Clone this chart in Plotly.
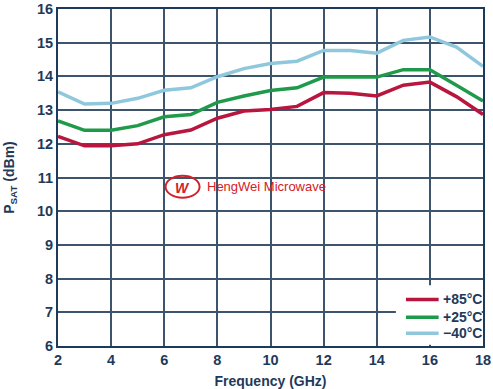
import plotly.graph_objects as go

freq = [2, 3, 4, 5, 6, 7, 8, 9, 10, 11, 12, 13, 14, 15, 16, 17, 18]
p85 = [12.22, 11.94, 11.94, 12.0, 12.27, 12.41, 12.76, 12.97, 13.02, 13.11, 13.52, 13.5, 13.42, 13.74, 13.83, 13.4, 12.87]
p25 = [12.68, 12.4, 12.4, 12.54, 12.8, 12.87, 13.23, 13.42, 13.58, 13.66, 13.98, 13.98, 13.98, 14.2, 14.2, 13.74, 13.27]
m40 = [13.54, 13.18, 13.2, 13.35, 13.59, 13.66, 13.99, 14.23, 14.38, 14.45, 14.77, 14.77, 14.69, 15.07, 15.17, 14.87, 14.3]

names = ["+85°C", "+25°C", "\u221240°C"]
colors = ["#b8163f", "#1f9a4b", "#8fc8dc"]
navy = "#1e3a5a"
gridc = "#3c556d"
red = "#d42027"
font_fam = "Arial, Liberation Sans, sans-serif"

fig = go.Figure()
for y, n, c in zip([p85, p25, m40], names, colors):
    fig.add_trace(go.Scatter(x=freq, y=y, mode="lines", name=n,
                             line=dict(color=c, width=3.5), showlegend=False))

fig.update_layout(
    width=493, height=389,
    margin=dict(l=58, r=10, t=9, b=43, autoexpand=False),
    paper_bgcolor="white", plot_bgcolor="white",
    font=dict(family=font_fam, color=navy, size=14),
    showlegend=False,
)
fig.update_xaxes(range=[2, 18], dtick=2, showgrid=True, gridcolor=gridc, gridwidth=1.5,
                 showline=True, linecolor=navy, linewidth=2, mirror=True,
                 zeroline=False, ticks="", ticklen=0, automargin=False,
                 ticklabeloverflow="allow",
                 tickfont=dict(size=14.5, color=navy, weight="bold"),
                 title=dict(text="Frequency (GHz)", standoff=10,
                            font=dict(size=14, color=navy, weight="bold")))
fig.update_yaxes(range=[6, 16], dtick=1, showgrid=True, gridcolor=gridc, gridwidth=1.5,
                 showline=True, linecolor=navy, linewidth=2, mirror=True,
                 zeroline=False, ticks="", ticklen=0, automargin=False,
                 ticklabeloverflow="allow",
                 tickfont=dict(size=14.5, color=navy, weight="bold"),
                 title=dict(text="P<sub>SAT</sub> (dBm)", standoff=19,
                            font=dict(size=14, color=navy, weight="bold")))

# watermark
fig.add_annotation(x=7.55, y=10.74, xref="x", yref="y",
                   text="HengWei Microwave", showarrow=False,
                   xanchor="left", yanchor="middle",
                   font=dict(family=font_fam, size=13, color=red))
fig.add_shape(type="circle", xref="x", yref="y",
              x0=6.05, x1=7.33, y0=10.4, y1=11.05,
              line=dict(color=red, width=2))
fig.add_annotation(x=6.69, y=10.7, xref="x", yref="y", text="<i><b>W</b></i>",
                   showarrow=False, font=dict(family=font_fam, size=14, color=red))

# legend (drawn inside plot, bottom right)
fig.add_shape(type="rect", xref="x", yref="y", x0=14.72, x1=17.95, y0=6.04, y1=7.8,
              fillcolor="white", line=dict(width=0), layer="above")
for yy, n, c in zip([7.38, 6.85, 6.38], names, colors):
    fig.add_shape(type="line", xref="x", yref="y", x0=15.1, x1=16.33, y0=yy, y1=yy,
                  line=dict(color=c, width=3.5), layer="above")
    fig.add_annotation(x=16.4, y=yy, xref="x", yref="y", text=n, showarrow=False,
                       xanchor="left", yanchor="middle",
                       font=dict(family=font_fam, size=14, color=navy, weight="bold"))

fig.write_html("out.html", post_script="document.body.style.margin='0';",
               config={"displayModeBar": False})
